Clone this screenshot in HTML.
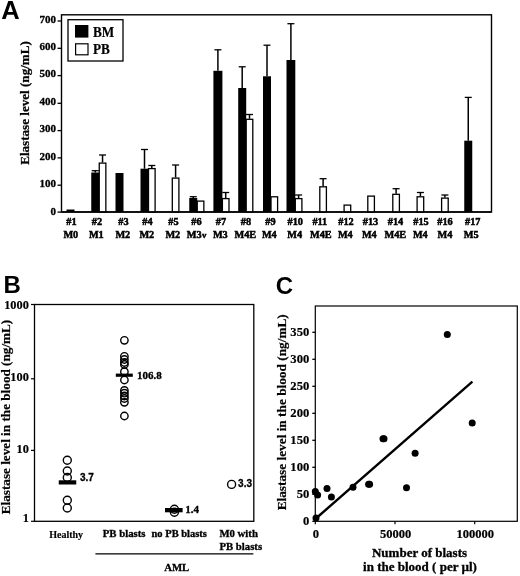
<!DOCTYPE html>
<html lang="en"><head><meta charset="utf-8"><title>Figure</title>
<style>
html,body{margin:0;padding:0;background:#fff;}
body{width:520px;height:576px;overflow:hidden;}
svg{display:block;}
text{fill:#000;}
.s{font-family:"Liberation Serif",serif;font-weight:bold;}
.n{font-family:"Liberation Sans",sans-serif;font-weight:bold;}
</style></head><body>
<svg width="520" height="576" viewBox="0 0 520 576">
<rect x="0" y="0" width="520" height="576" fill="#fff"/>
<text transform="translate(1.3,18.8) scale(1,1)" font-size="25.5" text-anchor="start" class="n" >A</text>
<rect x="61.5" y="14.8" width="430.0" height="197.2" fill="none" stroke="#000" stroke-width="1.4"/>
<line x1="57.5" y1="212.1" x2="61.5" y2="212.1" stroke="#000" stroke-width="1.3" />
<text transform="translate(56.1,214.6) scale(1.0,1)" font-size="11" text-anchor="end" class="s" stroke="#000" stroke-width="0.3" >0</text>
<line x1="57.5" y1="185.2" x2="61.5" y2="185.2" stroke="#000" stroke-width="1.3" />
<text transform="translate(56.1,187.17) scale(1.0,1)" font-size="11" text-anchor="end" class="s" stroke="#000" stroke-width="0.3" >100</text>
<line x1="57.5" y1="157.9" x2="61.5" y2="157.9" stroke="#000" stroke-width="1.3" />
<text transform="translate(56.1,159.74) scale(1.0,1)" font-size="11" text-anchor="end" class="s" stroke="#000" stroke-width="0.3" >200</text>
<line x1="57.5" y1="130.6" x2="61.5" y2="130.6" stroke="#000" stroke-width="1.3" />
<text transform="translate(56.1,132.31) scale(1.0,1)" font-size="11" text-anchor="end" class="s" stroke="#000" stroke-width="0.3" >300</text>
<line x1="57.5" y1="103.3" x2="61.5" y2="103.3" stroke="#000" stroke-width="1.3" />
<text transform="translate(56.1,104.88) scale(1.0,1)" font-size="11" text-anchor="end" class="s" stroke="#000" stroke-width="0.3" >400</text>
<line x1="57.5" y1="75.6" x2="61.5" y2="75.6" stroke="#000" stroke-width="1.3" />
<text transform="translate(56.1,77.44999999999999) scale(1.0,1)" font-size="11" text-anchor="end" class="s" stroke="#000" stroke-width="0.3" >500</text>
<line x1="57.5" y1="48.29999999999998" x2="61.5" y2="48.29999999999998" stroke="#000" stroke-width="1.3" />
<text transform="translate(56.1,50.01999999999998) scale(1.0,1)" font-size="11" text-anchor="end" class="s" stroke="#000" stroke-width="0.3" >600</text>
<line x1="57.5" y1="21.0" x2="61.5" y2="21.0" stroke="#000" stroke-width="1.3" />
<text transform="translate(56.1,22.590000000000003) scale(1.0,1)" font-size="11" text-anchor="end" class="s" stroke="#000" stroke-width="0.3" >700</text>
<text transform="translate(29,103) rotate(-90)" font-size="13.1" text-anchor="middle" class="s" stroke="#000" stroke-width="0.25">Elastase level (ng/mL)</text>
<rect x="68" y="19.7" width="55" height="41.3" fill="#fff" stroke="#000" stroke-width="1.3"/>
<rect x="75" y="25" width="13.4" height="12.6" fill="#000" stroke="none" stroke-width="0"/>
<rect x="75.6" y="43.8" width="12.4" height="11" fill="#fff" stroke="#000" stroke-width="1.2"/>
<text transform="translate(93,36.9) scale(1,1.15)" font-size="13.2" text-anchor="start" class="s" stroke="#000" stroke-width="0.2" >BM</text>
<text transform="translate(93,54.3) scale(1,1.15)" font-size="13.2" text-anchor="start" class="s" stroke="#000" stroke-width="0.2" >PB</text>
<rect x="66.5" y="209.5" width="8.0" height="2.5" fill="#000" stroke="none" stroke-width="0"/>
<text transform="translate(71.5,224.5) scale(0.98,1)" font-size="10.5" text-anchor="middle" class="s" stroke="#000" stroke-width="0.5" >#1</text>
<text transform="translate(70.8,237.5) scale(0.98,1)" font-size="10.5" text-anchor="middle" class="s" stroke="#000" stroke-width="0.5" >M0</text>
<rect x="91.25" y="172.5" width="8.0" height="39.5" fill="#000" stroke="none" stroke-width="0"/>
<line x1="95.25" y1="170.7" x2="95.25" y2="172.5" stroke="#000" stroke-width="1.5" />
<line x1="91.75" y1="170.7" x2="98.75" y2="170.7" stroke="#000" stroke-width="1.3" />
<rect x="99.25" y="163.1" width="6.6" height="48.9" fill="#fff" stroke="#000" stroke-width="1.3"/>
<line x1="102.55" y1="155" x2="102.55" y2="162.5" stroke="#000" stroke-width="1.5" />
<line x1="99.05" y1="155" x2="106.05" y2="155" stroke="#000" stroke-width="1.3" />
<text transform="translate(97,224.5) scale(0.98,1)" font-size="10.5" text-anchor="middle" class="s" stroke="#000" stroke-width="0.5" >#2</text>
<text transform="translate(96.3,237.5) scale(0.98,1)" font-size="10.5" text-anchor="middle" class="s" stroke="#000" stroke-width="0.5" >M1</text>
<rect x="115.5" y="173" width="8.0" height="39" fill="#000" stroke="none" stroke-width="0"/>
<text transform="translate(123.5,224.5) scale(0.98,1)" font-size="10.5" text-anchor="middle" class="s" stroke="#000" stroke-width="0.5" >#3</text>
<text transform="translate(122.8,237.5) scale(0.98,1)" font-size="10.5" text-anchor="middle" class="s" stroke="#000" stroke-width="0.5" >M2</text>
<rect x="140.5" y="168.7" width="8.0" height="43.30000000000001" fill="#000" stroke="none" stroke-width="0"/>
<line x1="144.5" y1="149.5" x2="144.5" y2="168.7" stroke="#000" stroke-width="1.5" />
<line x1="141.0" y1="149.5" x2="148.0" y2="149.5" stroke="#000" stroke-width="1.3" />
<rect x="148.5" y="168.6" width="6.6" height="43.4" fill="#fff" stroke="#000" stroke-width="1.3"/>
<line x1="151.8" y1="165.5" x2="151.8" y2="168" stroke="#000" stroke-width="1.5" />
<line x1="148.3" y1="165.5" x2="155.3" y2="165.5" stroke="#000" stroke-width="1.3" />
<text transform="translate(147.5,224.5) scale(0.98,1)" font-size="10.5" text-anchor="middle" class="s" stroke="#000" stroke-width="0.5" >#4</text>
<text transform="translate(146.8,237.5) scale(0.98,1)" font-size="10.5" text-anchor="middle" class="s" stroke="#000" stroke-width="0.5" >M2</text>
<rect x="172.3" y="178.1" width="6.6" height="33.9" fill="#fff" stroke="#000" stroke-width="1.3"/>
<line x1="175.60000000000002" y1="165" x2="175.60000000000002" y2="177.5" stroke="#000" stroke-width="1.5" />
<line x1="172.10000000000002" y1="165" x2="179.10000000000002" y2="165" stroke="#000" stroke-width="1.3" />
<text transform="translate(173.5,224.5) scale(0.98,1)" font-size="10.5" text-anchor="middle" class="s" stroke="#000" stroke-width="0.5" >#5</text>
<text transform="translate(172.8,237.5) scale(0.98,1)" font-size="10.5" text-anchor="middle" class="s" stroke="#000" stroke-width="0.5" >M2</text>
<rect x="189.25" y="198" width="8.0" height="14" fill="#000" stroke="none" stroke-width="0"/>
<line x1="193.25" y1="196.7" x2="193.25" y2="198" stroke="#000" stroke-width="1.5" />
<line x1="189.75" y1="196.7" x2="196.75" y2="196.7" stroke="#000" stroke-width="1.3" />
<rect x="197.25" y="201.1" width="6.6" height="10.9" fill="#fff" stroke="#000" stroke-width="1.3"/>
<text transform="translate(196.5,224.5) scale(0.98,1)" font-size="10.5" text-anchor="middle" class="s" stroke="#000" stroke-width="0.5" >#6</text>
<text transform="translate(196.60000000000002,237.5) scale(0.98,1)" font-size="10.5" text-anchor="middle" class="s" stroke="#000" stroke-width="0.5" >M3<tspan font-size="9" dx="0.5">v</tspan></text>
<rect x="213.4" y="70.8" width="9" height="141.2" fill="#000" stroke="none" stroke-width="0"/>
<line x1="217.9" y1="49.8" x2="217.9" y2="70.8" stroke="#000" stroke-width="1.5" />
<line x1="214.4" y1="49.8" x2="221.4" y2="49.8" stroke="#000" stroke-width="1.3" />
<rect x="222.4" y="198.6" width="6.6" height="13.4" fill="#fff" stroke="#000" stroke-width="1.3"/>
<line x1="225.70000000000002" y1="192.5" x2="225.70000000000002" y2="198" stroke="#000" stroke-width="1.5" />
<line x1="222.20000000000002" y1="192.5" x2="229.20000000000002" y2="192.5" stroke="#000" stroke-width="1.3" />
<text transform="translate(221,224.5) scale(0.98,1)" font-size="10.5" text-anchor="middle" class="s" stroke="#000" stroke-width="0.5" >#7</text>
<text transform="translate(220.3,237.5) scale(0.98,1)" font-size="10.5" text-anchor="middle" class="s" stroke="#000" stroke-width="0.5" >M3</text>
<rect x="238.2" y="88" width="8.0" height="124" fill="#000" stroke="none" stroke-width="0"/>
<line x1="242.2" y1="66.8" x2="242.2" y2="88" stroke="#000" stroke-width="1.5" />
<line x1="238.7" y1="66.8" x2="245.7" y2="66.8" stroke="#000" stroke-width="1.3" />
<rect x="246.2" y="119.3" width="6.6" height="92.7" fill="#fff" stroke="#000" stroke-width="1.3"/>
<line x1="249.5" y1="114.5" x2="249.5" y2="118.7" stroke="#000" stroke-width="1.5" />
<line x1="246.0" y1="114.5" x2="253.0" y2="114.5" stroke="#000" stroke-width="1.3" />
<text transform="translate(246,224.5) scale(0.98,1)" font-size="10.5" text-anchor="middle" class="s" stroke="#000" stroke-width="0.5" >#8</text>
<text transform="translate(245.3,237.5) scale(0.98,1)" font-size="10.5" text-anchor="middle" class="s" stroke="#000" stroke-width="0.5" >M4E</text>
<rect x="263" y="76.3" width="8.0" height="135.7" fill="#000" stroke="none" stroke-width="0"/>
<line x1="267.0" y1="45.2" x2="267.0" y2="76.3" stroke="#000" stroke-width="1.5" />
<line x1="263.5" y1="45.2" x2="270.5" y2="45.2" stroke="#000" stroke-width="1.3" />
<rect x="271.0" y="196.79999999999998" width="6.6" height="15.200000000000012" fill="#fff" stroke="#000" stroke-width="1.3"/>
<text transform="translate(270.5,224.5) scale(0.98,1)" font-size="10.5" text-anchor="middle" class="s" stroke="#000" stroke-width="0.5" >#9</text>
<text transform="translate(269.3,237.5) scale(0.98,1)" font-size="10.5" text-anchor="middle" class="s" stroke="#000" stroke-width="0.5" >M4</text>
<rect x="286.5" y="60" width="8.8" height="152" fill="#000" stroke="none" stroke-width="0"/>
<line x1="290.9" y1="23.7" x2="290.9" y2="60" stroke="#000" stroke-width="1.5" />
<line x1="287.4" y1="23.7" x2="294.4" y2="23.7" stroke="#000" stroke-width="1.3" />
<rect x="295.3" y="198.6" width="6.6" height="13.4" fill="#fff" stroke="#000" stroke-width="1.3"/>
<line x1="298.6" y1="195" x2="298.6" y2="198" stroke="#000" stroke-width="1.5" />
<line x1="295.1" y1="195" x2="302.1" y2="195" stroke="#000" stroke-width="1.3" />
<text transform="translate(295.3,224.5) scale(0.98,1)" font-size="10.5" text-anchor="middle" class="s" stroke="#000" stroke-width="0.5" >#10</text>
<text transform="translate(294.6,237.5) scale(0.98,1)" font-size="10.5" text-anchor="middle" class="s" stroke="#000" stroke-width="0.5" >M4</text>
<rect x="319.8" y="186.79999999999998" width="6.6" height="25.20000000000001" fill="#fff" stroke="#000" stroke-width="1.3"/>
<line x1="323.1" y1="178.7" x2="323.1" y2="186.2" stroke="#000" stroke-width="1.5" />
<line x1="319.6" y1="178.7" x2="326.6" y2="178.7" stroke="#000" stroke-width="1.3" />
<text transform="translate(319.8,224.5) scale(0.98,1)" font-size="10.5" text-anchor="middle" class="s" stroke="#000" stroke-width="0.5" >#11</text>
<text transform="translate(320.8,237.5) scale(0.98,1)" font-size="10.5" text-anchor="middle" class="s" stroke="#000" stroke-width="0.5" >M4E</text>
<rect x="344.1" y="205.1" width="6.6" height="6.9" fill="#fff" stroke="#000" stroke-width="1.3"/>
<text transform="translate(346.0,224.5) scale(0.98,1)" font-size="10.5" text-anchor="middle" class="s" stroke="#000" stroke-width="0.5" >#12</text>
<text transform="translate(345.3,237.5) scale(0.98,1)" font-size="10.5" text-anchor="middle" class="s" stroke="#000" stroke-width="0.5" >M4</text>
<rect x="367.8" y="196.1" width="6.6" height="15.9" fill="#fff" stroke="#000" stroke-width="1.3"/>
<text transform="translate(370.5,224.5) scale(0.98,1)" font-size="10.5" text-anchor="middle" class="s" stroke="#000" stroke-width="0.5" >#13</text>
<text transform="translate(369.3,237.5) scale(0.98,1)" font-size="10.5" text-anchor="middle" class="s" stroke="#000" stroke-width="0.5" >M4</text>
<rect x="392.8" y="194.29999999999998" width="6.6" height="17.70000000000001" fill="#fff" stroke="#000" stroke-width="1.3"/>
<line x1="396.1" y1="188.7" x2="396.1" y2="193.7" stroke="#000" stroke-width="1.5" />
<line x1="392.6" y1="188.7" x2="399.6" y2="188.7" stroke="#000" stroke-width="1.3" />
<text transform="translate(395.5,224.5) scale(0.98,1)" font-size="10.5" text-anchor="middle" class="s" stroke="#000" stroke-width="0.5" >#14</text>
<text transform="translate(395.3,237.5) scale(0.98,1)" font-size="10.5" text-anchor="middle" class="s" stroke="#000" stroke-width="0.5" >M4E</text>
<rect x="417.1" y="196.79999999999998" width="6.6" height="15.200000000000012" fill="#fff" stroke="#000" stroke-width="1.3"/>
<line x1="420.40000000000003" y1="192.5" x2="420.40000000000003" y2="196.2" stroke="#000" stroke-width="1.5" />
<line x1="416.90000000000003" y1="192.5" x2="423.90000000000003" y2="192.5" stroke="#000" stroke-width="1.3" />
<text transform="translate(421,224.5) scale(0.98,1)" font-size="10.5" text-anchor="middle" class="s" stroke="#000" stroke-width="0.5" >#15</text>
<text transform="translate(420.3,237.5) scale(0.98,1)" font-size="10.5" text-anchor="middle" class="s" stroke="#000" stroke-width="0.5" >M4</text>
<rect x="441.6" y="198.1" width="6.6" height="13.9" fill="#fff" stroke="#000" stroke-width="1.3"/>
<line x1="444.90000000000003" y1="195" x2="444.90000000000003" y2="197.5" stroke="#000" stroke-width="1.5" />
<line x1="441.40000000000003" y1="195" x2="448.40000000000003" y2="195" stroke="#000" stroke-width="1.3" />
<text transform="translate(445,224.5) scale(0.98,1)" font-size="10.5" text-anchor="middle" class="s" stroke="#000" stroke-width="0.5" >#16</text>
<text transform="translate(445.0,237.5) scale(0.98,1)" font-size="10.5" text-anchor="middle" class="s" stroke="#000" stroke-width="0.5" >M4</text>
<rect x="464.25" y="140.7" width="8.0" height="71.30000000000001" fill="#000" stroke="none" stroke-width="0"/>
<line x1="468.25" y1="97.4" x2="468.25" y2="140.7" stroke="#000" stroke-width="1.5" />
<line x1="464.75" y1="97.4" x2="471.75" y2="97.4" stroke="#000" stroke-width="1.3" />
<text transform="translate(472.7,224.5) scale(0.98,1)" font-size="10.5" text-anchor="middle" class="s" stroke="#000" stroke-width="0.5" >#17</text>
<text transform="translate(471.1,237.5) scale(0.98,1)" font-size="10.5" text-anchor="middle" class="s" stroke="#000" stroke-width="0.5" >M5</text>
<line x1="61.5" y1="212" x2="491.5" y2="212" stroke="#000" stroke-width="1.4" />
<text transform="translate(3.5,292.5) scale(1,1)" font-size="24" text-anchor="start" class="n" >B</text>
<rect x="34.5" y="304.5" width="219.3" height="216.79999999999995" fill="none" stroke="#000" stroke-width="1.3"/>
<line x1="31.0" y1="521.3" x2="34.5" y2="521.3" stroke="#000" stroke-width="1.2" />
<text transform="translate(28.8,521.6) scale(0.95,1)" font-size="13" text-anchor="end" class="s" stroke="#000" stroke-width="0.2" >1</text>
<line x1="31.0" y1="450.4" x2="34.5" y2="450.4" stroke="#000" stroke-width="1.2" />
<text transform="translate(28.8,452.7) scale(0.95,1)" font-size="13" text-anchor="end" class="s" stroke="#000" stroke-width="0.2" >10</text>
<line x1="31.0" y1="378.8" x2="34.5" y2="378.8" stroke="#000" stroke-width="1.2" />
<text transform="translate(28.8,380.8) scale(0.95,1)" font-size="13" text-anchor="end" class="s" stroke="#000" stroke-width="0.2" >100</text>
<line x1="31.0" y1="304.5" x2="34.5" y2="304.5" stroke="#000" stroke-width="1.2" />
<text transform="translate(28.8,309.2) scale(0.95,1)" font-size="13" text-anchor="end" class="s" stroke="#000" stroke-width="0.2" >1000</text>
<text transform="translate(10,417) rotate(-90)" font-size="13.2" text-anchor="middle" class="s" stroke="#000" stroke-width="0.2">Elastase level in the blood (ng/mL)</text>
<circle cx="67.3" cy="460.3" r="4.0" fill="none" stroke="#000" stroke-width="1.4"/>
<circle cx="67.3" cy="471" r="4.0" fill="none" stroke="#000" stroke-width="1.4"/>
<circle cx="67.3" cy="477.5" r="4.0" fill="none" stroke="#000" stroke-width="1.4"/>
<circle cx="67.3" cy="500.2" r="4.0" fill="none" stroke="#000" stroke-width="1.4"/>
<circle cx="67.3" cy="508" r="4.0" fill="none" stroke="#000" stroke-width="1.4"/>
<rect x="58.75" y="480.3" width="17.5" height="4.2" fill="#000" stroke="none" stroke-width="0"/>
<text transform="translate(80,481.2) scale(1,1)" font-size="10" text-anchor="start" class="n" stroke="#000" stroke-width="0.3" >3.7</text>
<circle cx="124.4" cy="340.3" r="3.7" fill="none" stroke="#000" stroke-width="1.4"/>
<circle cx="124.4" cy="356.3" r="3.7" fill="none" stroke="#000" stroke-width="1.4"/>
<circle cx="124.4" cy="359.5" r="3.7" fill="none" stroke="#000" stroke-width="1.4"/>
<circle cx="124.4" cy="362.5" r="3.7" fill="none" stroke="#000" stroke-width="1.4"/>
<circle cx="124.4" cy="364.5" r="3.7" fill="none" stroke="#000" stroke-width="1.4"/>
<circle cx="124.4" cy="371.7" r="3.7" fill="none" stroke="#000" stroke-width="1.4"/>
<circle cx="124.4" cy="380" r="3.7" fill="none" stroke="#000" stroke-width="1.4"/>
<circle cx="124.4" cy="390.4" r="3.7" fill="none" stroke="#000" stroke-width="1.4"/>
<circle cx="124.4" cy="393.2" r="3.7" fill="none" stroke="#000" stroke-width="1.4"/>
<circle cx="124.4" cy="396" r="3.7" fill="none" stroke="#000" stroke-width="1.4"/>
<circle cx="124.4" cy="398.5" r="3.7" fill="none" stroke="#000" stroke-width="1.4"/>
<circle cx="124.4" cy="402.3" r="3.7" fill="none" stroke="#000" stroke-width="1.4"/>
<circle cx="124.4" cy="416" r="3.7" fill="none" stroke="#000" stroke-width="1.4"/>
<rect x="115.8" y="373.6" width="17" height="3.2" fill="#000" stroke="none" stroke-width="0"/>
<text transform="translate(137,378.6) scale(1,1)" font-size="11" text-anchor="start" class="s" stroke="#000" stroke-width="0.35" >106.8</text>
<circle cx="174.4" cy="509.3" r="4.0" fill="none" stroke="#000" stroke-width="1.4"/>
<circle cx="174.4" cy="512.3" r="4.0" fill="none" stroke="#000" stroke-width="1.4"/>
<rect x="165" y="508" width="17.6" height="4.3" fill="#000" stroke="none" stroke-width="0"/>
<text transform="translate(185.2,512.8) scale(1,1)" font-size="11" text-anchor="start" class="s" stroke="#000" stroke-width="0.35" >1.4</text>
<circle cx="231.6" cy="484.4" r="4.0" fill="none" stroke="#000" stroke-width="1.4"/>
<text transform="translate(238.1,487) scale(1,1)" font-size="10" text-anchor="start" class="n" stroke="#000" stroke-width="0.3" >3.3</text>
<text transform="translate(49.2,538.2) scale(1,1)" font-size="10" text-anchor="start" class="s" stroke="#000" stroke-width="0.15" >Healthy</text>
<text transform="translate(102.8,537) scale(1,1)" font-size="10.75" text-anchor="start" class="s" stroke="#000" stroke-width="0.3" >PB blasts</text>
<text transform="translate(151.5,537) scale(1,1)" font-size="10.5" text-anchor="start" class="s" stroke="#000" stroke-width="0.3" >no PB blasts</text>
<text transform="translate(219.4,537) scale(1,1)" font-size="10.75" text-anchor="start" class="s" stroke="#000" stroke-width="0.3" >M0 with</text>
<text transform="translate(219.4,550.2) scale(1,1)" font-size="10.75" text-anchor="start" class="s" stroke="#000" stroke-width="0.3" >PB blasts</text>
<line x1="95.4" y1="553.8" x2="253.4" y2="553.8" stroke="#000" stroke-width="1.2" />
<text transform="translate(164.2,571) scale(1,1)" font-size="10.75" text-anchor="start" class="s" stroke="#000" stroke-width="0.3" >AML</text>
<text transform="translate(275.8,294.2) scale(1,1)" font-size="24" text-anchor="start" class="n" >C</text>
<rect x="315.3" y="306" width="201.99999999999994" height="215.29999999999995" fill="none" stroke="#000" stroke-width="1.2"/>
<line x1="312.3" y1="521.3" x2="315.3" y2="521.3" stroke="#000" stroke-width="1.3" />
<text transform="translate(309.3,525.3) scale(0.95,1)" font-size="13.3" text-anchor="end" class="s" stroke="#000" stroke-width="0.2" >0</text>
<line x1="312.3" y1="494.29999999999995" x2="315.3" y2="494.29999999999995" stroke="#000" stroke-width="1.3" />
<text transform="translate(309.3,498.29999999999995) scale(0.95,1)" font-size="13.3" text-anchor="end" class="s" stroke="#000" stroke-width="0.2" >50</text>
<line x1="312.3" y1="467.29999999999995" x2="315.3" y2="467.29999999999995" stroke="#000" stroke-width="1.3" />
<text transform="translate(309.3,471.29999999999995) scale(0.95,1)" font-size="13.3" text-anchor="end" class="s" stroke="#000" stroke-width="0.2" >100</text>
<line x1="312.3" y1="440.29999999999995" x2="315.3" y2="440.29999999999995" stroke="#000" stroke-width="1.3" />
<text transform="translate(309.3,444.29999999999995) scale(0.95,1)" font-size="13.3" text-anchor="end" class="s" stroke="#000" stroke-width="0.2" >150</text>
<line x1="312.3" y1="413.29999999999995" x2="315.3" y2="413.29999999999995" stroke="#000" stroke-width="1.3" />
<text transform="translate(309.3,417.29999999999995) scale(0.95,1)" font-size="13.3" text-anchor="end" class="s" stroke="#000" stroke-width="0.2" >200</text>
<line x1="312.3" y1="386.29999999999995" x2="315.3" y2="386.29999999999995" stroke="#000" stroke-width="1.3" />
<text transform="translate(309.3,390.29999999999995) scale(0.95,1)" font-size="13.3" text-anchor="end" class="s" stroke="#000" stroke-width="0.2" >250</text>
<line x1="312.3" y1="359.29999999999995" x2="315.3" y2="359.29999999999995" stroke="#000" stroke-width="1.3" />
<text transform="translate(309.3,363.29999999999995) scale(0.95,1)" font-size="13.3" text-anchor="end" class="s" stroke="#000" stroke-width="0.2" >300</text>
<line x1="312.3" y1="332.29999999999995" x2="315.3" y2="332.29999999999995" stroke="#000" stroke-width="1.3" />
<text transform="translate(309.3,336.29999999999995) scale(0.95,1)" font-size="13.3" text-anchor="end" class="s" stroke="#000" stroke-width="0.2" >350</text>
<line x1="315.3" y1="521.3" x2="315.3" y2="524.3" stroke="#000" stroke-width="1.2" />
<text transform="translate(315.8,538) scale(1,1)" font-size="12.5" text-anchor="middle" class="s" stroke="#000" stroke-width="0.2" >0</text>
<line x1="395.0" y1="521.3" x2="395.0" y2="524.3" stroke="#000" stroke-width="1.2" />
<text transform="translate(395.5,538) scale(1,1)" font-size="12.5" text-anchor="middle" class="s" stroke="#000" stroke-width="0.2" >50000</text>
<line x1="474.70000000000005" y1="521.3" x2="474.70000000000005" y2="524.3" stroke="#000" stroke-width="1.2" />
<text transform="translate(475.20000000000005,538) scale(1,1)" font-size="12.5" text-anchor="middle" class="s" stroke="#000" stroke-width="0.2" >100000</text>
<text transform="translate(286.3,412.3) rotate(-90)" font-size="13.3" text-anchor="middle" class="s" stroke="#000" stroke-width="0.2">Elastase level in the blood (ng/mL)</text>
<text transform="translate(419.5,557.3) scale(1,1)" font-size="13" text-anchor="middle" class="s" stroke="#000" stroke-width="0.3" >Number of blasts</text>
<text transform="translate(420,570.8) scale(1,1)" font-size="13" text-anchor="middle" class="s" stroke="#000" stroke-width="0.3" >in the blood ( per µl)</text>
<circle cx="384" cy="438.8" r="3.5" fill="#000"/>
<circle cx="369.6" cy="484.3" r="3.5" fill="#000"/>
<circle cx="316" cy="518" r="3.5" fill="#000"/>
<circle cx="315.3" cy="491.5" r="3.5" fill="#000"/>
<circle cx="317.6" cy="495" r="3.5" fill="#000"/>
<circle cx="327" cy="488.4" r="3.5" fill="#000"/>
<circle cx="331.4" cy="497" r="3.5" fill="#000"/>
<circle cx="353" cy="487.2" r="3.5" fill="#000"/>
<circle cx="368.6" cy="484.3" r="3.5" fill="#000"/>
<circle cx="383" cy="438.8" r="3.5" fill="#000"/>
<circle cx="406.5" cy="487.8" r="3.5" fill="#000"/>
<circle cx="415.1" cy="453.2" r="3.5" fill="#000"/>
<circle cx="472.2" cy="423" r="3.5" fill="#000"/>
<circle cx="447.3" cy="334.6" r="3.5" fill="#000"/>
<line x1="315.3" y1="519" x2="472.4" y2="381.7" stroke="#000" stroke-width="2.4" />
</svg>
</body></html>
